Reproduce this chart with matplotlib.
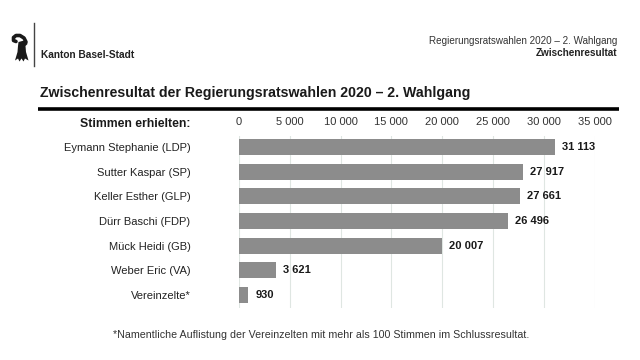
import matplotlib
matplotlib.use('Agg')
import matplotlib.pyplot as plt
from matplotlib.patches import Polygon

names = ['Eymann Stephanie (LDP)', 'Sutter Kaspar (SP)', 'Keller Esther (GLP)', 'Dürr Baschi (FDP)',
         'Mück Heidi (GB)', 'Weber Eric (VA)', 'Vereinzelte*']
votes = [31113, 27917, 27661, 26496, 20007, 3621, 930]
ticks = [0, 5000, 10000, 15000, 20000, 25000, 30000, 35000]


def spaced(v):
	return f'{v:,}'.replace(',', ' ')


plt.rcParams['font.family'] = ['Liberation Sans', 'DejaVu Sans']

W, H = 640, 360
fig = plt.figure(figsize=(W / 100, H / 100), dpi=100)

#---- overlay in pixel coordinates for the page furniture
bg = fig.add_axes([0, 0, 1, 1])
bg.set_xlim(0, W)
bg.set_ylim(H, 0)
bg.axis('off')

# logo: curl of the crozier and its body with the points at the bottom
bg.plot([16, 13.5, 13.5, 16, 20, 24, 26], [41.5, 40.5, 37.5, 35.5, 35.5, 38, 42], color='#1a1a1a', lw=2.6,
	solid_capstyle='round')
bg.add_patch(Polygon([(18.5, 42), (26, 40), (27.5, 44), (25.5, 46), (26, 52), (28.5, 60.5), (25, 58.5), (23.5, 61.5), (21.5, 58.5),
	(19.5, 61.5), (18, 58.5), (15, 60.5), (17.5, 52), (18, 46)], closed=True, color='#1a1a1a', lw=0))

bg.plot([34, 34], [23, 66], color='#444444', lw=1.0)
bg.text(41, 54.5, 'Kanton Basel-Stadt', fontsize=7.3, fontweight='bold', color='#222222', ha='left', va='center')
bg.text(617, 40.5, 'Regierungsratswahlen 2020 – 2. Wahlgang', fontsize=7.15, color='#333333', ha='right', va='center')
bg.text(617, 53.5, 'Zwischenresultat', fontsize=7.2, fontweight='bold', color='#222222', ha='right', va='center')
bg.text(40, 92.5, 'Zwischenresultat der Regierungsratswahlen 2020 – 2. Wahlgang', fontsize=10.15, fontweight='bold',
	color='#1a1a1a', ha='left', va='center')
bg.plot([38, 619], [109, 109], color='black', lw=2.6, solid_capstyle='butt')
bg.text(190, 124, 'Stimmen erhielten:', fontsize=8.8, fontweight='bold', color='#1a1a1a', ha='right', va='center')
bg.text(321, 335.5, '*Namentliche Auflistung der Vereinzelten mit mehr als 100 Stimmen im Schlussresultat.', fontsize=7.67,
	color='#333333', ha='center', va='center')

#---- the chart
left, right, top, bottom = 239, 594.5, 136, 308
ax = fig.add_axes([left / W, 1 - bottom / H, (right - left) / W, (bottom - top) / H])
ax.patch.set_alpha(0)
pos = list(range(len(names)))
ax.barh(pos, votes, height=0.65, color='#8c8c8c', zorder=3)
ax.set_xlim(0, 35000)
ax.set_ylim(6.526, -0.446)
ax.xaxis.tick_top()
ax.set_xticks(ticks)
ax.set_xticklabels([spaced(t) for t in ticks], fontsize=8, color='#333333')
ax.set_yticks(pos)
ax.set_yticklabels(names, fontsize=8, color='#222222')
ax.tick_params(axis='x', length=0, pad=6.5)
ax.tick_params(axis='y', length=0, pad=35)
ax.grid(axis='x', color='#dfe6e2', lw=0.8, zorder=0)
for s in ax.spines.values():
	s.set_visible(False)
for i, v in enumerate(votes):
	ax.annotate(spaced(v), (v, i), xytext=(5, 0), textcoords='offset points', fontsize=8, fontweight='bold',
		color='#1a1a1a', va='center', ha='left')

fig.savefig('out.png', dpi=100)
